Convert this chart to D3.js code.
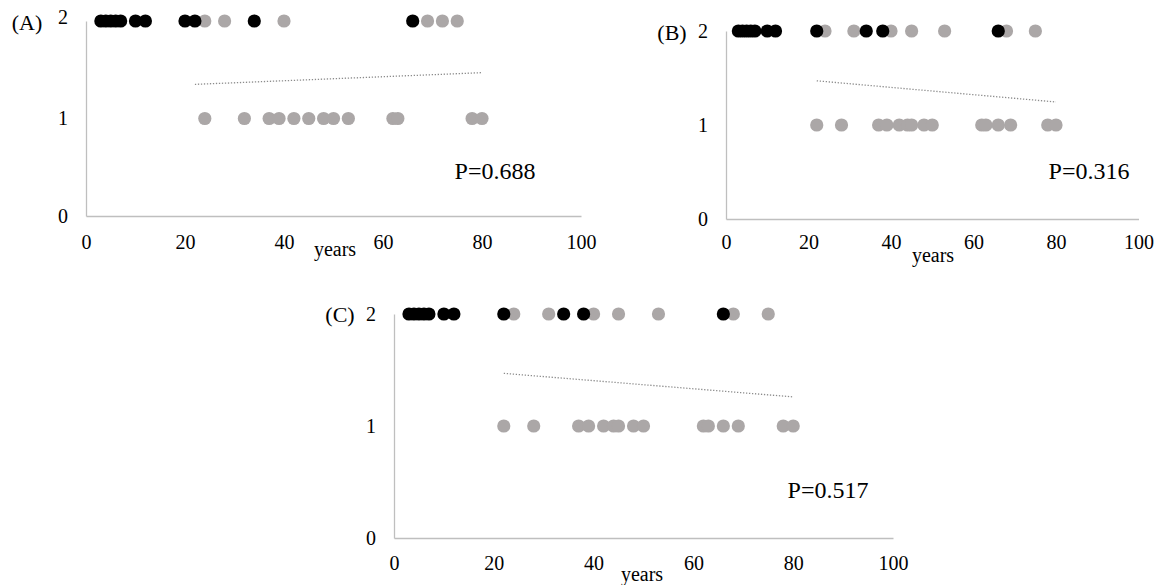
<!DOCTYPE html>
<html>
<head>
<meta charset="utf-8">
<script src="https://cdn.jsdelivr.net/npm/d3@7/dist/d3.min.js"></script>
<style>
  html, body { margin: 0; padding: 0; background: #fff; }
  svg { display: block; font-family: "Liberation Serif", "Times New Roman", serif; }
</style>
</head>
<body>
<svg id="chart" width="1155" height="585"></svg>
<script>
// ---------- DATA ----------
const xTicks = [0, 20, 40, 60, 80, 100];
const yTicks = [0, 1, 2];
const xLabel = "years";

// Panel A
const aBlack2 = [3, 4, 5, 6, 7, 10, 12, 20, 22, 34, 66];
const aGray2  = [24, 28, 40, 69, 72, 75];
const aGray1  = [24, 32, 37, 39, 42, 45, 48, 50, 53, 62, 63, 78, 80];
const aTrendX = [22, 80];
const aTrendY = [1.35, 1.47];
const aP = "P=0.688";

// Panel B
const bBlack2 = [3, 4, 5, 6, 7, 10, 12, 22, 34, 38, 66];
const bGray2  = [24, 31, 40, 45, 53, 68, 75];
const bGray1  = [22, 28, 37, 39, 42, 44, 45, 48, 50, 62, 63, 66, 69, 78, 80];
const bTrendX = [22, 80];
const bTrendY = [1.47, 1.245];
const bP = "P=0.316";

// Panel C
const cBlack2 = [3, 4, 5, 6, 7, 10, 12, 22, 34, 38, 66];
const cGray2  = [24, 31, 40, 45, 53, 68, 75];
const cGray1  = [22, 28, 37, 39, 42, 44, 45, 48, 50, 62, 63, 66, 69, 78, 80];
const cTrendX = [22, 80];
const cTrendY = [1.47, 1.26];
const cP = "P=0.517";

// ---------- LAYOUT ----------
const panels = [
  { tag: "(A)", black: aBlack2, gray2: aGray2, gray1: aGray1, tx: aTrendX, ty: aTrendY, p: aP,
    x0: 86, x1: 581, y0: 216, y1: 21, xPad: 19, yPad: 18, topLift: 4,
    tagX: 27, tagY: 22, pX: 495, pY: 171, labX: 335, labY: 256 },
  { tag: "(B)", black: bBlack2, gray2: bGray2, gray1: bGray1, tx: bTrendX, ty: bTrendY, p: bP,
    x0: 726, x1: 1138.5, y0: 219, y1: 31, xPad: 16, yPad: 18, topLift: 0,
    tagX: 672, tagY: 32, pX: 1089, pY: 171, labX: 933, labY: 262 },
  { tag: "(C)", black: cBlack2, gray2: cGray2, gray1: cGray1, tx: cTrendX, ty: cTrendY, p: cP,
    x0: 394, x1: 893, y0: 538, y1: 314, xPad: 18, yPad: 18, topLift: 0,
    tagX: 340, tagY: 314, pX: 828, pY: 490, labX: 642, labY: 581 }
];

const svg = d3.select("#chart");
const GRAY = "#aba7a7";
const AXIS = "#bfbfbf";
const R = 6.6;

panels.forEach(p => {
  const x = d3.scaleLinear().domain([0, 100]).range([p.x0, p.x1]);
  const y = d3.scaleLinear().domain([0, 2]).range([p.y0, p.y1]);
  const g = svg.append("g");

  // axes
  const xa = g.append("g").attr("transform", `translate(0,${p.y0})`)
    .call(d3.axisBottom(x).tickValues(xTicks).tickSize(0).tickPadding(p.xPad).tickFormat(d3.format("d")));
  const ya = g.append("g").attr("transform", `translate(${p.x0},0)`)
    .call(d3.axisLeft(y).tickValues(yTicks).tickSize(0).tickPadding(p.yPad).tickFormat(d3.format("d")));
  [xa, ya].forEach(a => {
    a.select(".domain").attr("stroke", AXIS).attr("stroke-width", 1.3);
    a.selectAll("text").attr("font-size", 20).attr("fill", "#000")
      .attr("font-family", '"Liberation Serif", "Times New Roman", serif');
  });
  ya.selectAll(".tick").filter(d => d === 2).select("text").attr("y", -p.topLift);

  // trend line (dotted)
  g.append("line")
    .attr("x1", x(p.tx[0])).attr("y1", y(p.ty[0]))
    .attr("x2", x(p.tx[1])).attr("y2", y(p.ty[1]))
    .attr("stroke", "#8c8c8c").attr("stroke-width", 1.3)
    .attr("stroke-dasharray", "1.3,1.7");

  // points
  g.selectAll(".g1").data(p.gray1).enter().append("circle")
    .attr("cx", d => x(d)).attr("cy", y(1)).attr("r", R).attr("fill", GRAY);
  g.selectAll(".g2").data(p.gray2).enter().append("circle")
    .attr("cx", d => x(d)).attr("cy", y(2)).attr("r", R).attr("fill", GRAY);
  g.selectAll(".b2").data(p.black).enter().append("circle")
    .attr("cx", d => x(d)).attr("cy", y(2)).attr("r", R).attr("fill", "#000");

  // texts
  g.append("text").attr("x", p.tagX).attr("y", p.tagY).attr("dy", "0.35em")
    .attr("text-anchor", "middle").attr("font-size", 22).text(p.tag);
  g.append("text").attr("x", p.pX).attr("y", p.pY).attr("dy", "0.35em")
    .attr("text-anchor", "middle").attr("font-size", 24).text(p.p);
  g.append("text").attr("x", p.labX).attr("y", p.labY)
    .attr("text-anchor", "middle").attr("font-size", 20).text(xLabel);
});
</script>
</body>
</html>
